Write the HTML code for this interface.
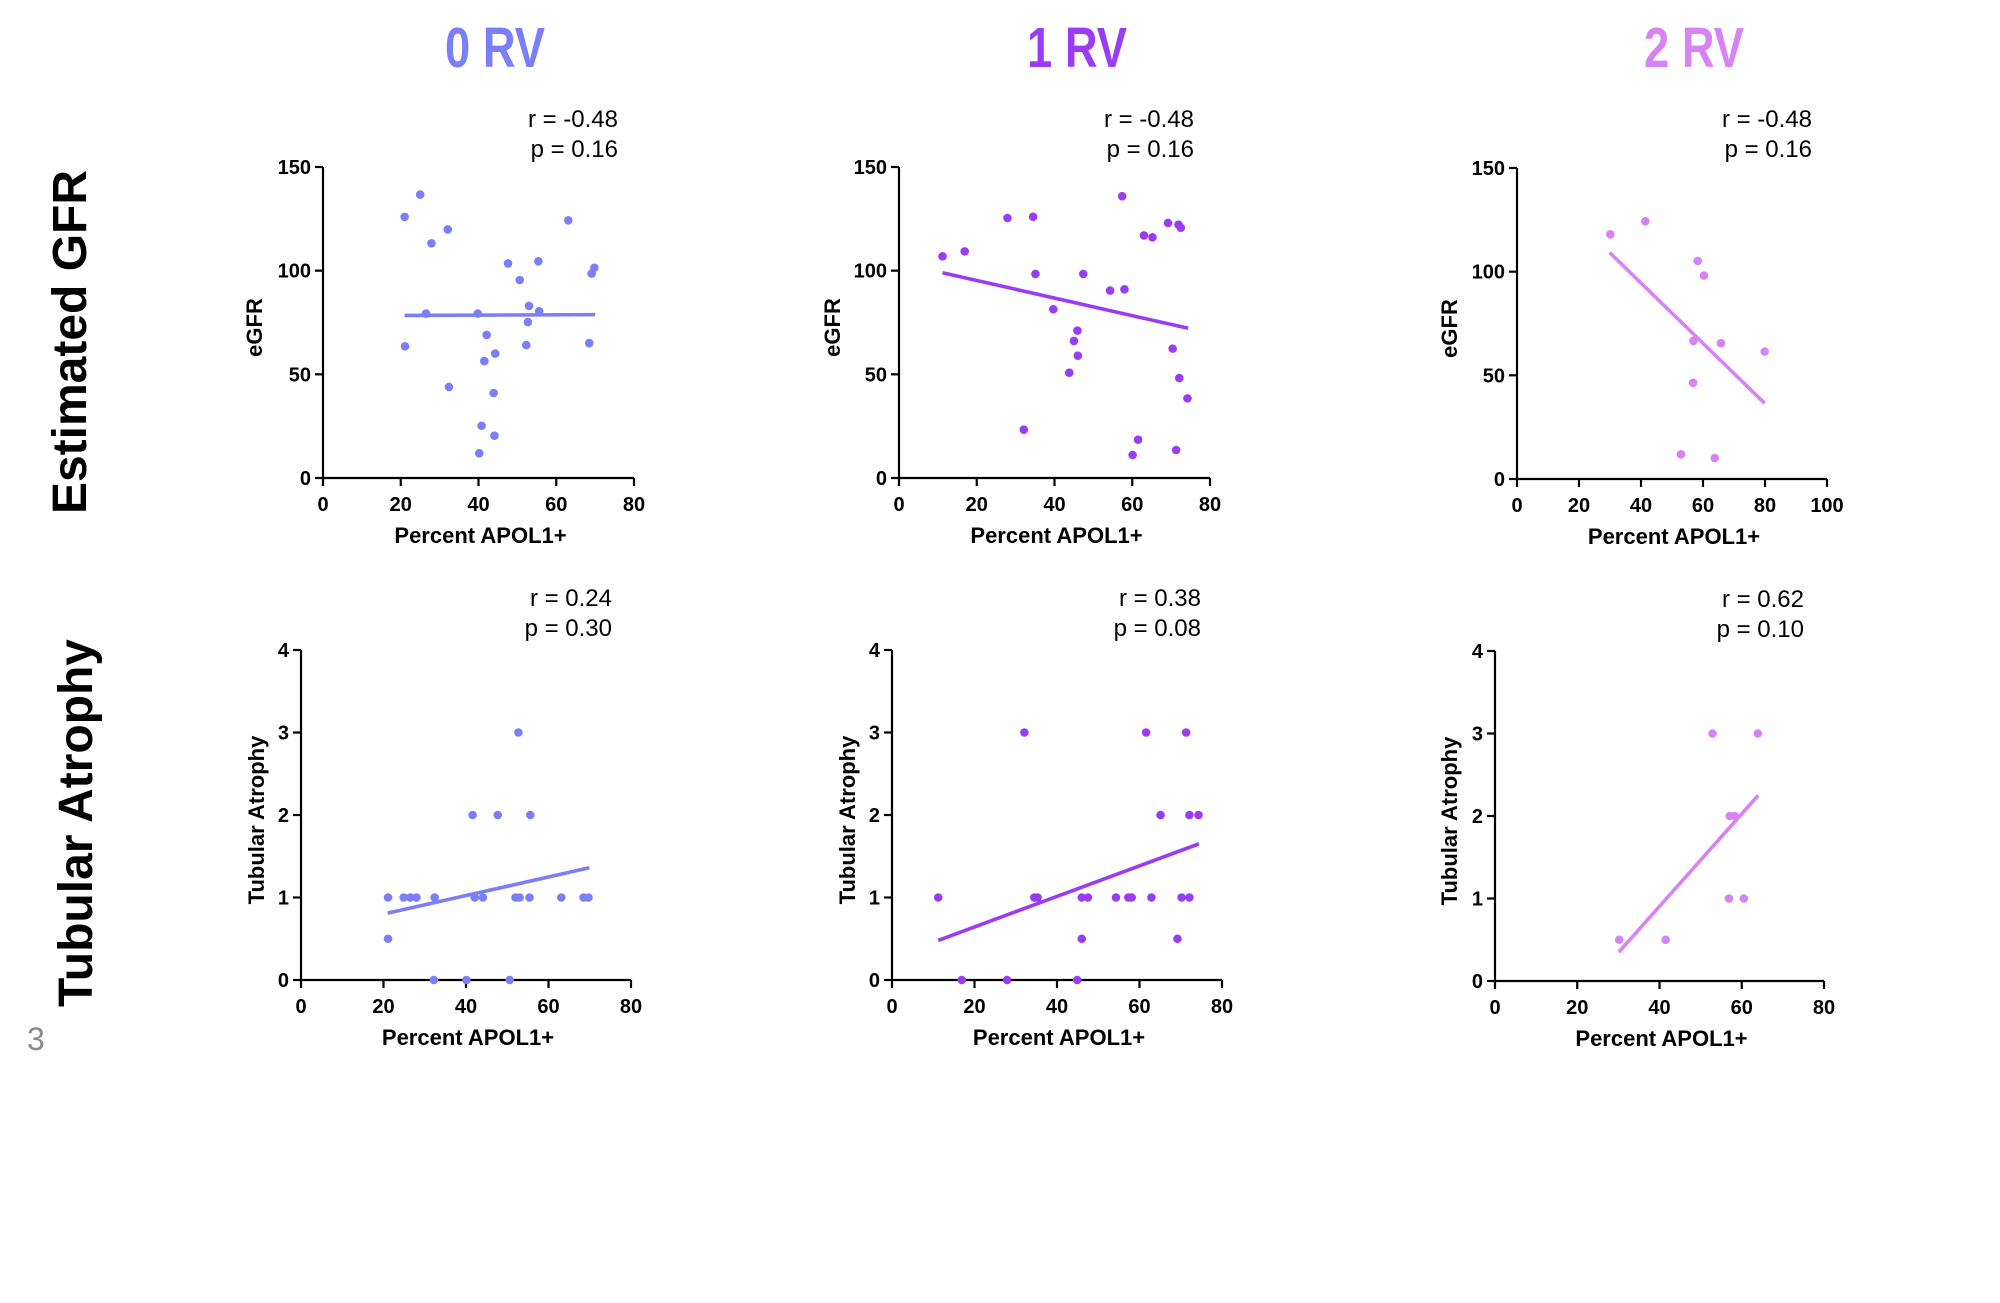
<!DOCTYPE html>
<html><head><meta charset="utf-8">
<style>
html,body{margin:0;padding:0;background:#fff;}
svg{display:block;}
text{font-family:"Liberation Sans",Arial,sans-serif;}
.tick{font-size:20px;font-weight:bold;fill:#000;}
.axt{font-size:22px;font-weight:bold;fill:#000;}
.stat{font-size:24px;fill:#000;}
</style></head>
<body>
<svg id="fig" width="2000" height="1303" viewBox="0 0 2000 1303" xmlns="http://www.w3.org/2000/svg">
<text x="495" y="67" text-anchor="middle" font-size="57" font-weight="bold" fill="#7b7ff7" textLength="100" lengthAdjust="spacingAndGlyphs">0 RV</text>
<text x="1077" y="67" text-anchor="middle" font-size="57" font-weight="bold" fill="#9b3cf5" textLength="100" lengthAdjust="spacingAndGlyphs">1 RV</text>
<text x="1694" y="67" text-anchor="middle" font-size="57" font-weight="bold" fill="#d883f5" textLength="100" lengthAdjust="spacingAndGlyphs">2 RV</text>
<text transform="translate(86,342) rotate(-90)" text-anchor="middle" font-size="48" font-weight="bold" fill="#000">Estimated GFR</text>
<text transform="translate(92,823) rotate(-90)" text-anchor="middle" font-size="48" font-weight="bold" fill="#000">Tubular Atrophy</text>
<text x="27" y="1050" font-size="32" fill="#888">3</text>
</svg>
<script>
// ---- data ----
const p1x=[21.0,25.0,27.9,32.1,26.5,21.1,32.4,47.6,50.6,55.4,63.1,69.8,69.1,68.5,53.0,55.6,52.7,52.3,39.8,42.1,41.5,44.3,43.9,40.8,44.1,40.2];
const p1y=[125.9,136.7,113.2,119.9,79.3,63.5,43.9,103.5,95.5,104.5,124.3,101.4,98.6,65.1,83.0,80.4,75.2,64.1,79.3,69.0,56.4,60.0,41.0,25.2,20.4,11.9];
const p1fit=[[21,78.4],[70,78.8]];
const p2x=[11.2,16.9,27.9,34.5,35.1,47.4,39.7,54.3,58.0,57.4,63.0,65.2,69.2,71.9,72.5,45.9,45.0,46.0,43.8,32.1,61.5,60.1,71.3,70.4,72.1,74.2];
const p2y=[106.9,109.3,125.4,126.0,98.4,98.4,81.4,90.4,91.0,135.9,117.0,116.1,123.0,122.2,120.7,71.1,66.1,59.0,50.8,23.3,18.5,11.1,13.5,62.4,48.2,38.4];
const p2fit=[[11.2,99.0],[74.4,72.2]];
const p3x=[30.1,41.4,58.3,60.3,56.9,65.8,79.9,56.8,52.9,63.8];
const p3y=[118.0,124.3,105.2,98.1,66.6,65.5,61.5,46.4,11.9,10.1];
const p3fit=[[29.9,109.2],[79.9,36.5]];
const p4x=[21.1,21.1,24.9,26.5,28.0,32.4,32.2,40.1,50.6,41.6,47.7,55.6,52.7,42.1,44.1,52.0,53.0,55.4,63.1,68.5,69.7];
const p4y=[1,0.5,1,1,1,1,0,0,0,2,2,2,3,1,1,1,1,1,1,1,1];
const p4fit=[[21.0,0.81],[69.9,1.36]];
const p5x=[11.2,16.9,27.9,44.9,32.1,61.6,71.3,65.1,72.1,74.3,34.5,35.3,46.0,47.5,54.3,57.3,58.1,62.9,70.2,72.1,46.0,69.2];
const p5y=[1,0,0,0,3,3,3,2,2,2,1,1,1,1,1,1,1,1,1,1,0.5,0.5];
const p5fit=[[11.2,0.48],[74.4,1.65]];
const p6x=[30.2,41.5,52.9,63.9,57.1,58.3,56.9,60.5];
const p6y=[0.5,0.5,3,3,2,2,1,1];
const p6fit=[[30.1,0.35],[64.0,2.25]];
const xTicks80=[0,20,40,60,80];
const xTicks100=[0,20,40,60,80,100];
const yTicksGFR=[0,50,100,150];
const yTicksTA=[0,1,2,3,4];
const stats=[["r = -0.48","p = 0.16"],["r = -0.48","p = 0.16"],["r = -0.48","p = 0.16"],["r = 0.24","p = 0.30"],["r = 0.38","p = 0.08"],["r = 0.62","p = 0.10"]];

const NS="http://www.w3.org/2000/svg";
const svg=document.getElementById('fig');
function mk(tag,attrs,parent){const e=document.createElementNS(NS,tag);for(const k in attrs)e.setAttribute(k,attrs[k]);(parent||svg).appendChild(e);return e;}

function panel(cfg){
  const g=mk('g',{});
  
  
  const sx=v=>cfg.x0+(v-cfg.xmin)/(cfg.xmax-cfg.xmin)*(cfg.x1-cfg.x0);
  const sy=v=>cfg.y0-(v-cfg.ymin)/(cfg.ymax-cfg.ymin)*(cfg.y0-cfg.y1);
  const ax=mk('line',{x1:cfg.x0,y1:cfg.y0,x2:cfg.x1,y2:cfg.y0,stroke:'#000','stroke-width':2.2},g);
  
  
  const ay=mk('line',{x1:cfg.x0,y1:cfg.y0,x2:cfg.x0,y2:cfg.y1,stroke:'#000','stroke-width':2.2},g);
  
  
  cfg.xt.forEach(v=>{
    mk('line',{x1:sx(v),y1:cfg.y0,x2:sx(v),y2:cfg.y0+8,stroke:'#000','stroke-width':2.2},g);
    const t=mk('text',{x:sx(v),y:cfg.y0+33,'text-anchor':'middle',class:'tick'},g);
    t.textContent=v;
    
    
  });
  cfg.yt.forEach(v=>{
    mk('line',{x1:cfg.x0-8,y1:sy(v),x2:cfg.x0,y2:sy(v),stroke:'#000','stroke-width':2.2},g);
    const t=mk('text',{x:cfg.x0-12,y:sy(v)+7,'text-anchor':'end',class:'tick'},g);
    t.textContent=v;
    
    
  });
  const xt=mk('text',{x:(cfg.x0+cfg.x1)/2+2,y:cfg.y0+65,'text-anchor':'middle',class:'axt'},g);
  xt.textContent='Percent APOL1+';
  
  
  const yt=mk('text',{transform:`translate(${cfg.ylx},${(cfg.y0+cfg.y1)/2+5}) rotate(-90)`,'text-anchor':'middle',class:'axt'},g);
  yt.textContent=cfg.ylab;
  
  
  cfg.xs.forEach((v,i)=>{
    const c=mk('circle',{cx:sx(v),cy:sy(cfg.ys[i]),r:4.3,fill:cfg.color},g);
    
    
  });
  const f=cfg.fit;
  const fl=mk('line',{x1:sx(f[0][0]),y1:sy(f[0][1]),x2:sx(f[1][0]),y2:sy(f[1][1]),stroke:cfg.color,'stroke-width':3.6},g);
  
  
  cfg.st.forEach((s,i)=>{
    const t=mk('text',{x:cfg.sr,y:cfg.sb+i*30,'text-anchor':'end',class:'stat'},g);
    t.textContent=s;
    
    
  });
}
const c0='#7b7ff7',c1='#9b3cf5',c2='#d883f5';
panel({name:'panel-egfr-0rv',x0:323,x1:634,y0:478,y1:167,xmin:0,xmax:80,ymin:0,ymax:150,xt:xTicks80,yt:yTicksGFR,xs:p1x,ys:p1y,fit:p1fit,color:c0,ylab:'eGFR',ylx:262,sr:618,sb:127,st:stats[0]});
panel({name:'panel-egfr-1rv',x0:899,x1:1210,y0:478,y1:167,xmin:0,xmax:80,ymin:0,ymax:150,xt:xTicks80,yt:yTicksGFR,xs:p2x,ys:p2y,fit:p2fit,color:c1,ylab:'eGFR',ylx:840,sr:1194,sb:127,st:stats[1]});
panel({name:'panel-egfr-2rv',x0:1517,x1:1827,y0:479,y1:168,xmin:0,xmax:100,ymin:0,ymax:150,xt:xTicks100,yt:yTicksGFR,xs:p3x,ys:p3y,fit:p3fit,color:c2,ylab:'eGFR',ylx:1457,sr:1812,sb:127,st:stats[2]});
panel({name:'panel-ta-0rv',x0:301,x1:631,y0:980,y1:650,xmin:0,xmax:80,ymin:0,ymax:4,xt:xTicks80,yt:yTicksTA,xs:p4x,ys:p4y,fit:p4fit,color:c0,ylab:'Tubular Atrophy',ylx:264,sr:612,sb:606,st:stats[3]});
panel({name:'panel-ta-1rv',x0:892,x1:1222,y0:980,y1:650,xmin:0,xmax:80,ymin:0,ymax:4,xt:xTicks80,yt:yTicksTA,xs:p5x,ys:p5y,fit:p5fit,color:c1,ylab:'Tubular Atrophy',ylx:855,sr:1201,sb:606,st:stats[4]});
panel({name:'panel-ta-2rv',x0:1495,x1:1824,y0:981,y1:651,xmin:0,xmax:80,ymin:0,ymax:4,xt:xTicks80,yt:yTicksTA,xs:p6x,ys:p6y,fit:p6fit,color:c2,ylab:'Tubular Atrophy',ylx:1457,sr:1804,sb:607,st:stats[5]});
</script>
</body></html>
